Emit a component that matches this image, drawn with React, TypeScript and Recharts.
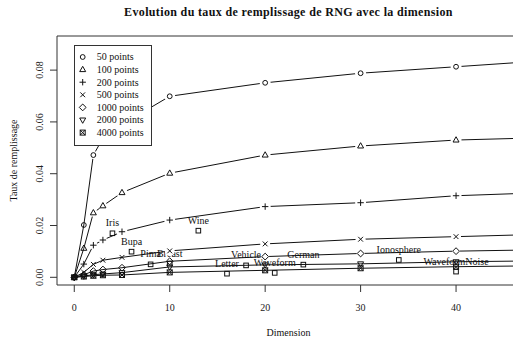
import React from 'react';
import { ComposedChart, Line, Scatter, XAxis, YAxis, ReferenceLine, Legend } from 'recharts';

const dimensions = [0, 1, 2, 3, 5, 10, 20, 30, 40, 50];
const rate50 = [0, 0.0202, 0.0472, 0.0537, 0.059, 0.0699, 0.0751, 0.0788, 0.0813, 0.0838];
const rate100 = [0, 0.0112, 0.0249, 0.0276, 0.0327, 0.0402, 0.0472, 0.0507, 0.053, 0.054];
const rate200 = [0, 0.0051, 0.0124, 0.0144, 0.0176, 0.0221, 0.0273, 0.0288, 0.0315, 0.0328];
const rate500 = [0, 0.0019, 0.005, 0.0066, 0.0077, 0.0102, 0.0129, 0.0147, 0.0157, 0.0167];
const rate1000 = [0, 0.001, 0.0024, 0.003, 0.0037, 0.0062, 0.008, 0.0092, 0.0101, 0.0107];
const rate2000 = [0, 0.0005, 0.001, 0.0013, 0.0018, 0.004, 0.0048, 0.0052, 0.006, 0.0064];
const rate4000 = [0, 0.0003, 0.0006, 0.0008, 0.0009, 0.0019, 0.0027, 0.0035, 0.0041, 0.0045];

const seriesLabels = ['50 points', '100 points', '200 points', '500 points', '1000 points', '2000 points', '4000 points'];
const seriesKeys = ['s50', 's100', 's200', 's500', 's1000', 's2000', 's4000'];
const markerKinds = ['circle', 'triangle', 'plus', 'cross', 'diamond', 'tridown', 'boxx'];
const seriesValues = [rate50, rate100, rate200, rate500, rate1000, rate2000, rate4000];

const datasetNames = ['Iris', 'Bupa', 'Pima', 'Breast', 'Wine', 'Letter', 'Vehicle', 'Waveform', 'German', 'Ionosphere', 'WaveformNoise'];
const datasetDims = [4, 6, 8, 10, 13, 16, 18, 21, 24, 34, 40];
const datasetRates = [0.017, 0.0099, 0.005, 0.0053, 0.018, 0.0014, 0.0046, 0.0017, 0.0049, 0.0067, 0.0022];

const xTicks = [0, 10, 20, 30, 40];
const yTicks = [0, 0.02, 0.04, 0.06, 0.08];
const xDomain = [-1.81, 46.7];
const yDomain = [-0.00297, 0.09317];

const titleText = 'Evolution du taux de remplissage de RNG avec la dimension';
const xTitle = 'Dimension';
const yTitle = 'Taux de remplissage';

const lineData = dimensions.map((d, i) => {
  const row: any = { dim: d };
  seriesKeys.forEach((k, j) => {
    row[k] = seriesValues[j][i];
  });
  return row;
});

const datasetData = datasetNames.map((n, i) => ({ dim: datasetDims[i], rate: datasetRates[i], name: n }));

const INK = '#111';
const FONT = '"Liberation Serif", "DejaVu Serif", serif';

function Marker({ kind, cx, cy }: { kind: string; cx: number; cy: number }) {
  switch (kind) {
    case 'circle':
      return <circle cx={cx} cy={cy} r={2.4} fill="none" stroke={INK} strokeWidth={1} />;
    case 'triangle':
      return (
        <polygon
          points={`${cx},${cy - 3.3} ${cx + 3},${cy + 2} ${cx - 3},${cy + 2}`}
          fill="none"
          stroke={INK}
          strokeWidth={1}
        />
      );
    case 'plus':
      return <path d={`M${cx - 3.2},${cy}H${cx + 3.2}M${cx},${cy - 3.2}V${cy + 3.2}`} stroke={INK} strokeWidth={1} />;
    case 'cross':
      return (
        <path
          d={`M${cx - 2.4},${cy - 2.4}L${cx + 2.4},${cy + 2.4}M${cx - 2.4},${cy + 2.4}L${cx + 2.4},${cy - 2.4}`}
          stroke={INK}
          strokeWidth={1}
        />
      );
    case 'diamond':
      return (
        <polygon
          points={`${cx},${cy - 3.4} ${cx + 3.4},${cy} ${cx},${cy + 3.4} ${cx - 3.4},${cy}`}
          fill="none"
          stroke={INK}
          strokeWidth={1}
        />
      );
    case 'tridown':
      return (
        <polygon
          points={`${cx},${cy + 3.3} ${cx + 3},${cy - 2} ${cx - 3},${cy - 2}`}
          fill="none"
          stroke={INK}
          strokeWidth={1}
        />
      );
    case 'boxx':
      return (
        <g>
          <rect x={cx - 2.5} y={cy - 2.5} width={5} height={5} fill="none" stroke={INK} strokeWidth={1} />
          <path
            d={`M${cx - 2.5},${cy - 2.5}L${cx + 2.5},${cy + 2.5}M${cx - 2.5},${cy + 2.5}L${cx + 2.5},${cy - 2.5}`}
            stroke={INK}
            strokeWidth={1}
          />
        </g>
      );
    case 'square':
      return <rect x={cx - 2.3} y={cy - 2.3} width={4.6} height={4.6} fill="none" stroke={INK} strokeWidth={1} />;
    default:
      return null;
  }
}

const makeDot = (kind: string, seriesIndex: number) => (props: any) => {
  const { cx, cy, index, payload } = props;
  const key = `dot-${seriesIndex}-${index}`;
  if (cx == null || cy == null || !payload) return <g key={key} />;
  const d = payload.dim;
  let halo = 0;
  if (seriesIndex <= 2) halo = d >= 5 ? 5.5 : d >= 2 ? 4 : 0;
  else if (seriesIndex === 3) halo = d >= 10 ? 5 : 0;
  else if (seriesIndex === 4) halo = d >= 20 ? 4 : 0;
  return (
    <g key={key}>
      {halo > 0 && <circle cx={cx} cy={cy} r={halo} fill="#fff" stroke="none" />}
      <Marker kind={kind} cx={cx} cy={cy} />
    </g>
  );
};

const DatasetShape = (props: any) => {
  const { cx, cy, payload } = props;
  if (cx == null || cy == null) return <g />;
  return (
    <g>
      <Marker kind="square" cx={cx} cy={cy} />
      <text x={cx} y={cy - 7} textAnchor="middle" fontSize={10} fontFamily={FONT} fill={INK}>
        {payload.name}
      </text>
    </g>
  );
};

const XTick = (props: any) => {
  const { x, y, payload } = props;
  return (
    <text x={x} y={y + 16.7} textAnchor="middle" fontSize={10} fontFamily={FONT} fill="#222">
      {payload.value}
    </text>
  );
};

const YTick = (props: any) => {
  const { x, y, payload } = props;
  const bx = x - 5.3;
  return (
    <text
      x={bx}
      y={y}
      textAnchor="middle"
      fontSize={10}
      fontFamily={FONT}
      fill="#222"
      transform={`rotate(-90, ${bx}, ${y})`}
    >
      {Number(payload.value).toFixed(2)}
    </text>
  );
};

const XTitle = (props: any) => {
  const vb = props.viewBox || {};
  const cx = (vb.x || 0) + (vb.width || 0) / 2;
  return (
    <text x={cx} y={336} textAnchor="middle" fontSize={10} fontFamily={FONT} fill={INK}>
      {xTitle}
    </text>
  );
};

const YTitle = (props: any) => {
  const vb = props.viewBox || {};
  const cy = (vb.y || 0) + (vb.height || 0) / 2;
  const bx = 16.5;
  return (
    <text
      x={bx}
      y={cy}
      textAnchor="middle"
      fontSize={10}
      fontFamily={FONT}
      fill={INK}
      transform={`rotate(-90, ${bx}, ${cy})`}
    >
      {yTitle}
    </text>
  );
};

const LegendBox = () => (
  <svg width={78} height={101} style={{ display: 'block' }}>
    <rect x={0.5} y={0.5} width={77} height={100} fill="#fff" stroke="#333" strokeWidth={1} />
    {seriesLabels.map((lab, i) => {
      const cy = 12 + i * 12.6;
      return (
        <g key={lab}>
          <Marker kind={markerKinds[i]} cx={8.7} cy={cy} />
          <text x={22.7} y={cy + 3.4} fontSize={10} fontFamily={FONT} fill={INK}>
            {lab}
          </text>
        </g>
      );
    })}
  </svg>
);

export default function App() {
  return (
    <div
      style={{
        position: 'absolute',
        left: 0,
        top: 0,
        width: 513,
        height: 341,
        overflow: 'hidden',
        background: '#fff',
      }}
    >
      <svg width={513} height={30} style={{ position: 'absolute', left: 0, top: 0 }}>
        <text
          x={288.5}
          y={16.2}
          textAnchor="middle"
          fontSize={12}
          fontWeight="bold"
          letterSpacing={0.35}
          fontFamily={FONT}
          fill={INK}
        >
          {titleText}
        </text>
      </svg>
      <ComposedChart width={520} height={341} data={lineData} margin={{ top: 36, right: 0, bottom: 0, left: 0 }}>
        <XAxis
          dataKey="dim"
          type="number"
          domain={xDomain}
          allowDataOverflow
          ticks={xTicks}
          interval={0}
          tickSize={7}
          tick={<XTick />}
          axisLine={{ stroke: '#333' }}
          tickLine={{ stroke: '#333' }}
          height={56}
          label={<XTitle />}
        />
        <YAxis
          type="number"
          domain={yDomain}
          allowDataOverflow
          ticks={yTicks}
          interval={0}
          tickSize={7}
          tick={<YTick />}
          axisLine={{ stroke: '#333' }}
          tickLine={{ stroke: '#333' }}
          width={57}
          label={<YTitle />}
        />
        <ReferenceLine y={yDomain[1]} stroke="#333" strokeWidth={1} />
        {seriesKeys.map((k, i) => (
          <Line
            key={k}
            dataKey={k}
            name={seriesLabels[i]}
            type="linear"
            stroke={INK}
            strokeWidth={1}
            dot={makeDot(markerKinds[i], i)}
            activeDot={false}
            isAnimationActive={false}
            legendType="none"
          />
        ))}
        <Scatter
          data={datasetData}
          dataKey="rate"
          shape={<DatasetShape />}
          isAnimationActive={false}
          legendType="none"
        />
        <Legend
          layout="vertical"
          align="center"
          verticalAlign="middle"
          content={<LegendBox />}
          wrapperStyle={{ left: 74, top: 45, width: 78, height: 101 }}
        />
      </ComposedChart>
    </div>
  );
}
